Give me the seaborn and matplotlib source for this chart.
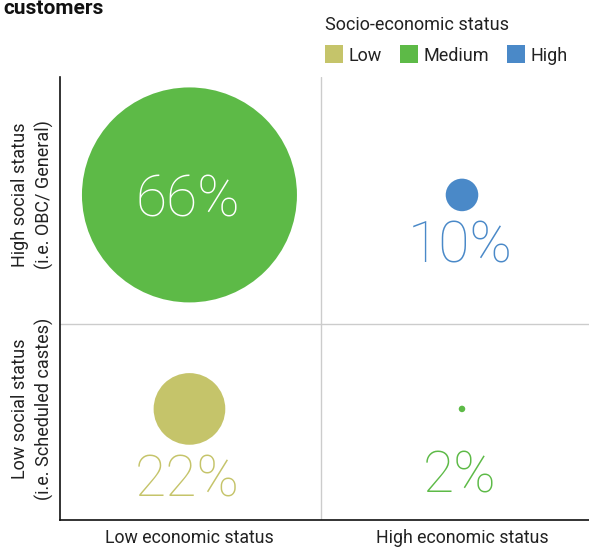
import matplotlib
matplotlib.use("Agg")
import matplotlib.pyplot as plt
from matplotlib.lines import Line2D
import seaborn as sns
import pandas as pd

# ---- data ----
econ_labels = ["Low economic status", "High economic status"]
social_labels = ["Low social status\n(i.e. Scheduled castes)",
                 "High social status\n(i.e. OBC/ General)"]
econ = [0, 1, 0, 1]          # 0 = low economic, 1 = high economic
social = [1, 1, 0, 0]        # 0 = low social, 1 = high social
share = [66, 10, 22, 2]
status = ["Medium", "High", "Low", "Medium"]
status_order = ["Low", "Medium", "High"]
status_colors = ["#c5c46a", "#5dba47", "#4a89c8"]
legend_title = "Socio-economic status"
title = "customers"

df = pd.DataFrame({"econ": econ, "social": social, "share": share, "status": status})
palette = dict(zip(status_order, status_colors))

sns.set_theme(style="white")
plt.rcParams["font.family"] = ["Roboto", "DejaVu Sans"]

W, H = 589, 548
fig = plt.figure(figsize=(W / 100, H / 100), dpi=100)
ax = fig.add_axes([60 / W, (H - 520) / H, 529 / W, 443 / H])

# bubble radius proportional to the value
d_per_unit = 154.8 / 66.0  # diameter in points per percentage point
sizes = {v: (v * d_per_unit) ** 2 for v in share}

sns.scatterplot(data=df, x="econ", y="social", hue="status", palette=palette,
                size="share", sizes=sizes, legend=False, linewidth=0,
                alpha=1, ax=ax, zorder=3)

ax.set_xlim(-0.475, 1.466)
ax.set_ylim(-0.519, 1.551)

# quadrant dividers
ax.axvline(0.4826, color="#cccccc", lw=1, zorder=1)
ax.axhline(0.397, color="#cccccc", lw=1, zorder=1)

# value labels
label_offsets = {66: 15.8, 10: 49, 22: 63.4, 2: 60.5}
for x, y, v, s in zip(econ, social, share, status):
    col = "white" if v == 66 else palette[s]
    ax.annotate(f"{v}%", (x, y), xytext=(-1.5, -label_offsets[v]),
                textcoords="offset points", ha="center", va="baseline",
                fontsize=41, color=col, fontweight="light",
                family=["Roboto", "DejaVu Sans"], zorder=4)

ax.set_xticks([0, 1])
ax.set_xticklabels(econ_labels, fontsize=12.8, color="#222222")
ax.set_yticks([0, 1])
ax.set_yticklabels(social_labels, fontsize=13, color="#222222", rotation=90,
                   va="center", ha="center", multialignment="center",
                   linespacing=1.4)
ax.tick_params(axis="x", length=0, pad=6.5)
ax.tick_params(axis="y", length=0, pad=20)
ax.set_xlabel("")
ax.set_ylabel("")

for side in ["top", "right"]:
    ax.spines[side].set_visible(False)
for side in ["left", "bottom"]:
    ax.spines[side].set_color("#111111")
    ax.spines[side].set_linewidth(1.2)

# title (partially visible at top)
fig.text(3 / W, (H - 14) / H, title, fontsize=15, fontweight="bold",
         ha="left", va="baseline", color="#111111")

# legend
handles = [Line2D([0], [0], marker="s", linestyle="none", markersize=12.7,
                  markerfacecolor=c, markeredgewidth=0) for c in status_colors]
leg = fig.legend(handles, status_order, title=legend_title, loc="upper left",
                 bbox_to_anchor=(318 / W, 1 - 9 / H), ncol=3, frameon=False,
                 fontsize=13, title_fontsize=13, handlelength=1.0,
                 handletextpad=0.3, columnspacing=1.0, alignment="left",
                 borderaxespad=0, labelspacing=0.5)
leg._legend_box.sep = 9
for t in leg.get_texts():
    t.set_color("#222222")
leg.get_title().set_color("#222222")

fig.savefig("out.png", dpi=100)
